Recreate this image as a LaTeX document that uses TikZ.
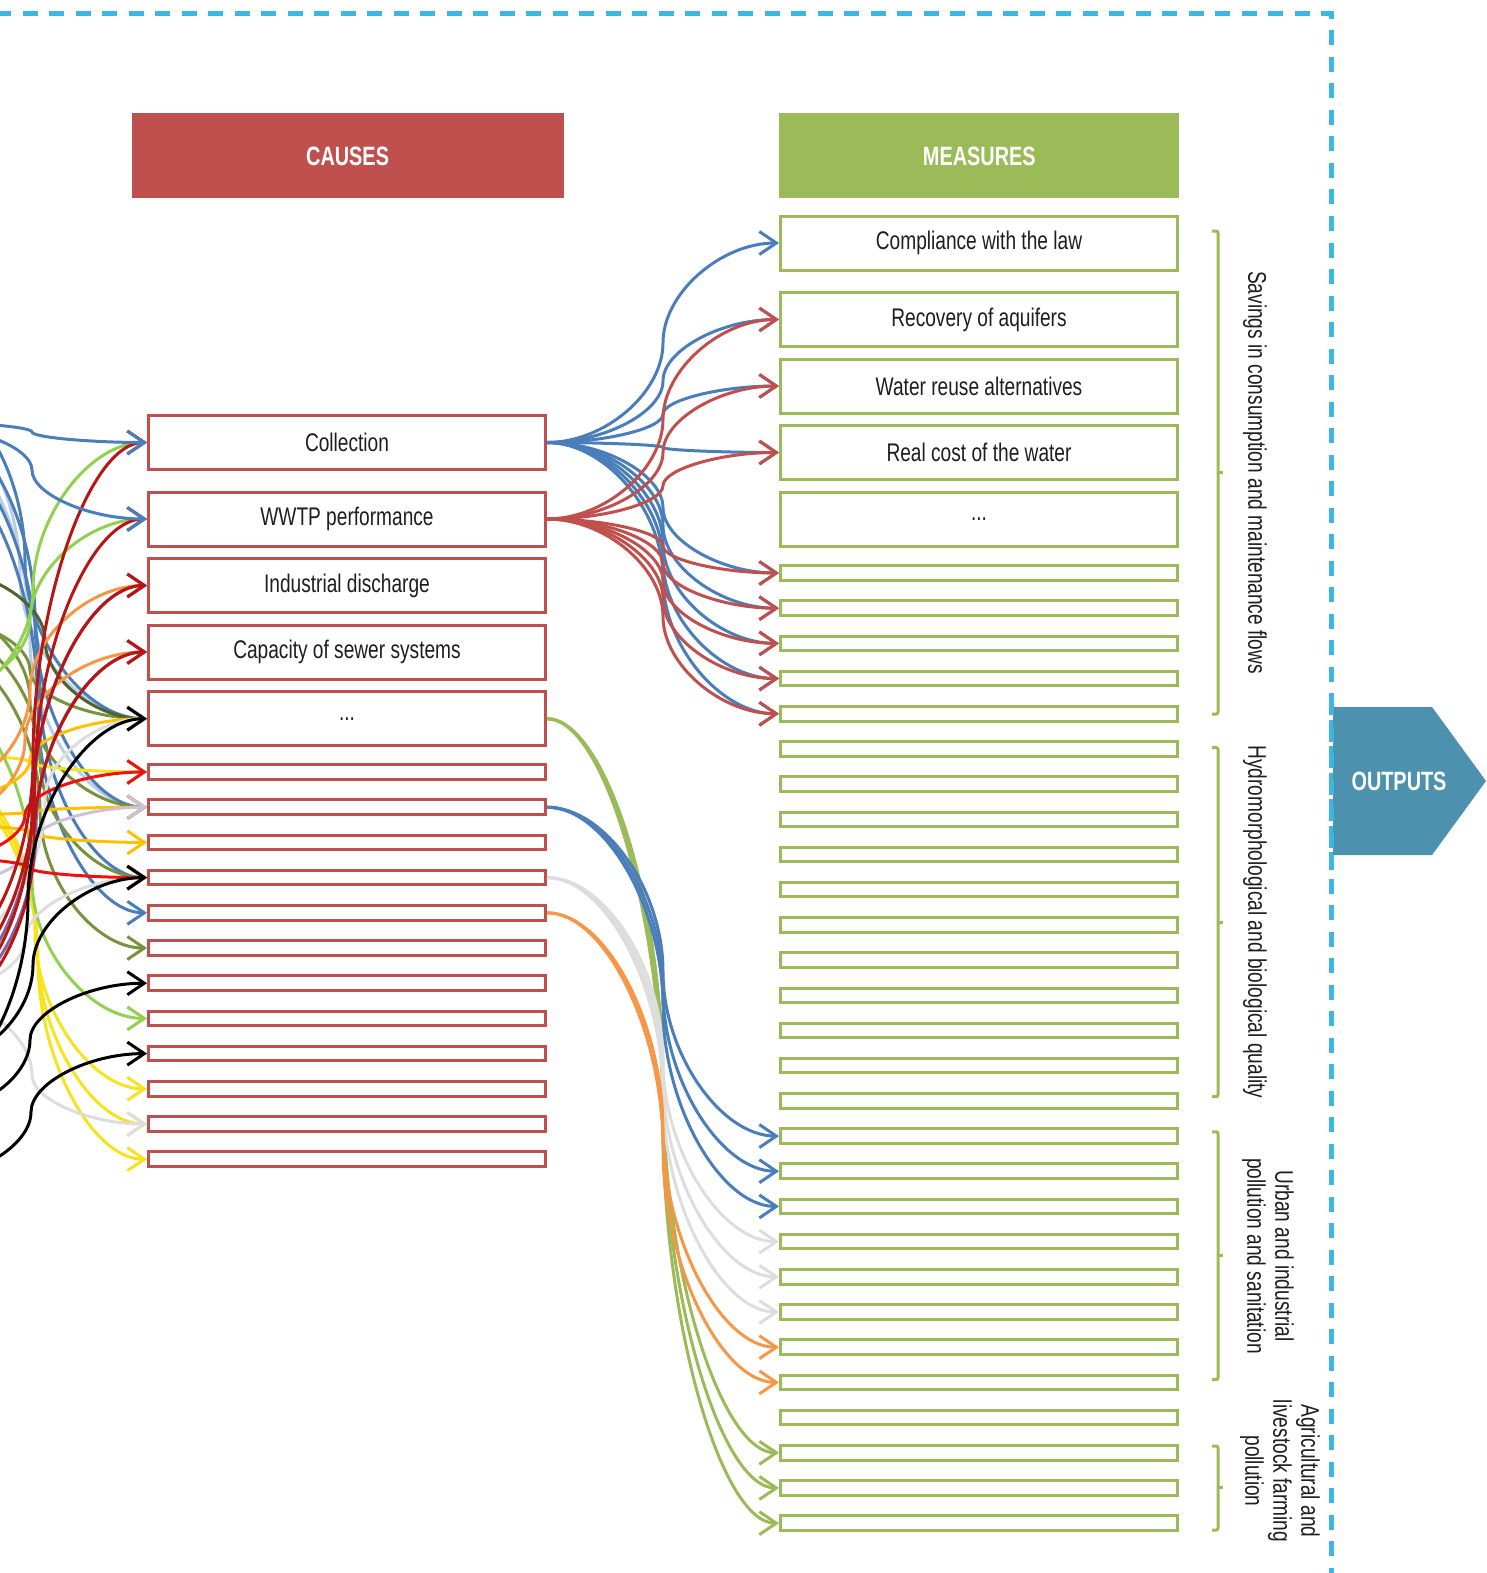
\documentclass[tikz,border=0pt]{standalone}
\usepackage{fontspec}
\setmainfont{Liberation Sans}[FakeStretch=0.75]
\usetikzlibrary{arrows.meta,calc}
\definecolor{cRed}{HTML}{C0504D}
\definecolor{mGreen}{HTML}{9BBB59}
\definecolor{outC}{HTML}{4C91AE}
\definecolor{dashC}{HTML}{3DB7E2}
\definecolor{cBlue}{HTML}{4A7EBB}
\definecolor{lGray}{HTML}{DDDDDD}
\definecolor{cOrange}{HTML}{F79646}
\definecolor{dRed}{HTML}{BA1515}
\definecolor{lGreen}{HTML}{92D050}
\definecolor{cPurple}{HTML}{8064A2}
\definecolor{dOlive}{HTML}{4F6228}
\definecolor{cOlive}{HTML}{77933C}
\definecolor{lBlue}{HTML}{B9CDE5}
\definecolor{yOrange}{HTML}{FFC000}
\definecolor{cYellow}{HTML}{F6E31C}
\definecolor{bRed}{HTML}{EE1111}
\definecolor{lPurple}{HTML}{CCC1DA}
\definecolor{txt}{HTML}{1E1E1E}
\newcommand\lconn[4]{\draw[conn,#1] let \p1=(#2), \p2=(#3), \p3=(#4) in (\p1) .. controls ({0.5*\x1+0.5*\x2},\y1) and (\x2,{0.5*\y1+0.5*\y2}) .. (\p2) .. controls (\x2,{0.5*\y2+0.5*\y3}) and ({0.5*\x2+0.5*\x3},\y3) .. (\p3);}
\newcommand\rconn[3]{\draw[conn,#1] let \p1=(#2), \p3=(#3), \p2=($(\p1)!0.5!(\p3)$) in (\p1) .. controls ({0.5*\x1+0.5*\x2},\y1) and (\x2,{0.5*\y1+0.5*\y2}) .. (\p2) .. controls (\x2,{0.5*\y2+0.5*\y3}) and ({0.5*\x2+0.5*\x3},\y3) .. (\p3);}
\begin{document}
\begin{tikzpicture}[x=1pt,y=-1pt,
  conn/.style={line width=3pt,-{Straight Barb[length=17pt,width=23pt]}},
  lbl/.style={font=\fontsize{25.5pt}{28pt}\selectfont,text=txt},
  cbox/.style={draw=cRed,line width=3pt,fill=white,minimum width=397pt,inner sep=0pt,lbl},
  mbox/.style={draw=mGreen,line width=3pt,fill=white,minimum width=397pt,inner sep=0pt,lbl},
  big/.style={minimum height=54pt},
  small/.style={minimum height=14.5pt},
  hdr/.style={minimum height=85pt,inner sep=0pt,text=white,font=\fontsize{26.5pt}{30pt}\selectfont\bfseries},
  brk/.style={draw=mGreen,line width=3pt,rounded corners=2pt},
  dashfr/.style={draw=dashC,line width=5pt,dash pattern=on 15pt off 11.5pt},
  side/.style={lbl,rotate=-90,align=center,inner sep=0pt}]
\useasboundingbox (0,0) rectangle (1486,1573);

% frame
\draw[dashfr] (-4,14) -- (1331,14) -- (1331,1580);

% headers
\node[hdr,fill=cRed,minimum width=432pt] (causes) at (347.6,156) {CAUSES};
\node[hdr,fill=mGreen,minimum width=400pt] (measures) at (979.3,156) {MEASURES};

% cause boxes
\node[cbox,big] (c1) at (347,442.5) {Collection};
\node[cbox,big] (c2) at (347,519) {WWTP performance};
\node[cbox,big] (c3) at (347,585.5) {Industrial discharge};
\node[cbox,big] (c4) at (347,652) {Capacity of sewer systems};
\node[cbox,big] (c5) at (347,718.7) {...};
\foreach \j in {0,...,11} \node[cbox,small] (cs\j) at (347,{772+35.2*\j}) {};

% measure boxes
\node[mbox,big] (m1) at (979,243) {Compliance with the law};
\node[mbox,big] (m2) at (979,319.5) {Recovery of aquifers};
\node[mbox,big] (m3) at (979,386) {Water reuse alternatives};
\node[mbox,big] (m4) at (979,452.5) {Real cost of the water};
\node[mbox,big] (m5) at (979,519) {...};
\foreach \k in {0,...,27} \node[mbox,small] (ms\k) at (979,{573+35.19*\k}) {};

% outputs
\fill[outC] (1333,707) -- (1432,707) -- (1486,781) -- (1432,855) -- (1333,855) -- cycle;
\node[hdr,minimum height=0pt] (outputs) at (1399,781) {OUTPUTS};
\draw[dashfr] (1331,700) -- (1331,870);

% brackets
\draw[brk] (1212,231) -- (1218,231) -- (1218,714) -- (1212,714);
\draw[brk] (1218,472.6) -- (1223,472.6);
\draw[brk] (1212,747.5) -- (1218,747.5) -- (1218,1096.7) -- (1212,1096.7);
\draw[brk] (1218,922) -- (1223,922);
\draw[brk] (1212,1131.8) -- (1218,1131.8) -- (1218,1379.6) -- (1212,1379.6);
\draw[brk] (1218,1255) -- (1223,1255);
\draw[brk] (1212,1446) -- (1218,1446) -- (1218,1530) -- (1212,1530);
\draw[brk] (1218,1487) -- (1223,1487);

% side labels
\node[side] (g1) at (1255,472.6) {Savings in consumption and maintenance flows};
\node[side] (g2) at (1255,922) {Hydromorphological and biological quality};
\node[side] (g3) at (1268,1256) {Urban and industrial\\pollution and sanitation};
\node[side] (g4) at (1280,1471) {Agricultural and\\livestock farming\\pollution};

% right connectors
\rconn{cBlue}{c1.east}{m1.west}
\rconn{cBlue}{c1.east}{m2.west}
\rconn{cBlue}{c1.east}{m3.west}
\rconn{cBlue}{c1.east}{m4.west}
\foreach \k in {0,...,4} {\rconn{cBlue}{c1.east}{ms\k.west}}
\rconn{cRed}{c2.east}{m2.west}
\rconn{cRed}{c2.east}{m3.west}
\rconn{cRed}{c2.east}{m4.west}
\foreach \k in {0,...,4} {\rconn{cRed}{c2.east}{ms\k.west}}
\foreach \k in {25,26,27} {\rconn{mGreen}{c5.east}{ms\k.west}}
\foreach \k in {19,20,21} {\rconn{lGray}{cs3.east}{ms\k.west}}
\foreach \k in {22,23} {\rconn{cOrange}{cs4.east}{ms\k.west}}
\foreach \k in {16,17,18} {\rconn{cBlue}{cs1.east}{ms\k.west}}

% left sources (outside the picture)
\coordinate (s1) at (-83,422);
\coordinate (s2) at (-60,700);
\coordinate (s3) at (-60,960);
\coordinate (s4) at (-83,425);
\coordinate (s5) at (-60,690);
\coordinate (s6) at (-60,980);
\coordinate (s7) at (-60,790);
\coordinate (s8) at (-60,990);
\coordinate (s9) at (-60,1000);
\coordinate (s10) at (-60,820);
\coordinate (s11) at (-60,1000);
\coordinate (s12) at (-60,1010);
\coordinate (s13) at (-60,570);
\coordinate (s14) at (-60,620);
\coordinate (s15) at (-60,400);
\coordinate (s16) at (-60,420);
\coordinate (s17) at (-60,800);
\coordinate (s18) at (-60,950);
\coordinate (s19) at (-60,1080);
\coordinate (s20) at (-60,755);
\coordinate (s21) at (-60,860);
\coordinate (s22) at (-60,430);
\coordinate (s23) at (-60,440);
\coordinate (s24) at (-60,610);
\coordinate (s25) at (-60,815);
\coordinate (s26) at (-60,885);
\coordinate (s27) at (-60,825);
\coordinate (s28) at (-60,450);
\coordinate (s29) at (-60,630);
\coordinate (s30) at (-60,858);
\coordinate (s31) at (-60,990);
\coordinate (s32) at (-60,1060);
\coordinate (s33) at (-60,470);
\coordinate (s34) at (-60,650);
\coordinate (s35) at (-60,1110);
\coordinate (s36) at (-60,700);
\coordinate (s37) at (-83,1180);
\coordinate (s38) at (-60,770);
\coordinate (s39) at (-60,1000);
\coordinate (s40) at (-60,780);
\coordinate (s41) at (-60,775);

\begin{scope}
\clip (0,0) rectangle (1486,1573);
% blue / light blue from the top
\lconn{lBlue}{s16}{20,575}{c5.west}
\lconn{lBlue}{s23}{30,640}{cs1.west}
\lconn{cBlue}{s15}{25,560}{c5.west}
\lconn{cBlue}{s22}{35,620}{cs1.west}
\lconn{cBlue}{s28}{40,690}{cs3.west}
\lconn{cBlue}{s33}{38,710}{cs4.west}
% olive
\lconn{cOlive}{s14}{30,670}{c5.west}
\lconn{cOlive}{s24}{30,700}{cs1.west}
\lconn{cOlive}{s29}{40,760}{cs3.west}
\lconn{cOlive}{s34}{40,810}{cs5.west}
\lconn{dOlive}{s13}{45,640}{c5.west}
% yellow
\lconn{cYellow}{s20}{30,762}{cs0.west}
\lconn{cYellow}{s41}{37,945}{cs10.west}
\lconn{cYellow}{s38}{35,930}{cs9.west}
\lconn{cYellow}{s40}{38,960}{cs11.west}
% light green
\lconn{lGreen}{s2}{33,590}{c1.west}
\lconn{lGreen}{s5}{30,620}{c2.west}
\lconn{lGreen}{s36}{32,880}{cs7.west}
% orange / yellow-orange
\lconn{cOrange}{s7}{30,690}{c3.west}
\lconn{cOrange}{s10}{25,740}{c4.west}
\lconn{yOrange}{s17}{30,760}{c5.west}
\lconn{yOrange}{s25}{30,812}{cs1.west}
\lconn{yOrange}{s27}{30,832}{cs2.west}
% gray
\lconn{lGray}{s18}{45,800}{c5.west}
\lconn{lGray}{s31}{25,940}{cs3.west}
\lconn{lGray}{s39}{32,1075}{cs10.west}
% purple
\lconn{cPurple}{s8}{34,800}{c3.west}
\lconn{cPurple}{s11}{36,830}{c4.west}
\lconn{lPurple}{s26}{30,845}{cs1.west}
% bright red
\lconn{bRed}{s30}{30,868}{cs3.west}
\lconn{bRed}{s21}{25,815}{cs0.west}
% dark red
\lconn{dRed}{s3}{33,760}{c1.west}
\lconn{dRed}{s6}{35,780}{c2.west}
\lconn{dRed}{s9}{32,810}{c3.west}
\lconn{dRed}{s12}{34,840}{c4.west}
% blue to Collection / WWTP
\lconn{cBlue}{s1}{32,432}{c1.west}
\lconn{cBlue}{s4}{32,470}{c2.west}
% black
\lconn{black}{s19}{28,900}{c5.west}
\lconn{black}{s32}{33,965}{cs3.west}
\lconn{black}{s35}{30,1040}{cs6.west}
\lconn{black}{s37}{31,1112}{cs8.west}
\end{scope}
\end{tikzpicture}
\end{document}
